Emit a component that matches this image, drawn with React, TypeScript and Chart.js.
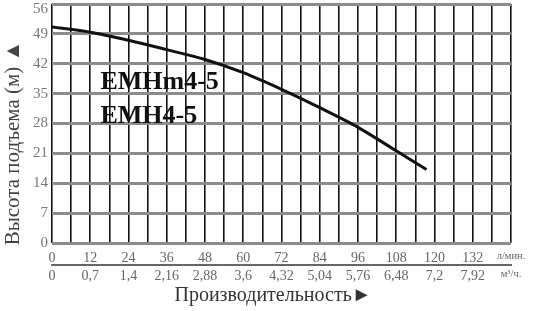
import React, { useEffect, useRef } from "react";
import { Chart, registerables } from "chart.js";

Chart.register(...registerables);

const flowLpm = [0, 12, 24, 36, 48, 60, 72, 84, 96, 108, 117.5];
const headM = [50.6, 49.4, 47.5, 45.3, 43.0, 39.9, 36.0, 31.7, 27.1, 21.6, 17.2];
const lpmLabels: Record<number, string> = {
  0: "0", 12: "12", 24: "24", 36: "36", 48: "48", 60: "60", 72: "72",
  84: "84", 96: "96", 108: "108", 120: "120", 132: "132", 144: "л/мин.",
};
const m3hLabels: Record<number, string> = {
  0: "0", 12: "0,7", 24: "1,4", 36: "2,16", 48: "2,88", 60: "3,6", 72: "4,32",
  84: "5,04", 96: "5,76", 108: "6,48", 120: "7,2", 132: "7,92", 144: "м³/ч.",
};
const headMax = 56;
const modelLabels = ["EMHm4-5", "EMH4-5"];
const modelLabelPos = [
  { x: 15.2, y: 36.1 },
  { x: 15.2, y: 28.1 },
];
const yTitle = "Высота подъема (м) ▲";
const xTitle = "Производительность►";

const SERIF = "'Liberation Serif', 'Times New Roman', serif";

const overlay = {
  id: "overlay",
  afterDatasetsDraw(chart: any) {
    const { ctx, scales } = chart;
    ctx.save();
    ctx.fillStyle = "#777";
    ctx.font = `15px ${SERIF}`;
    ctx.textAlign = "right";
    ctx.textBaseline = "middle";
    ctx.fillText(String(headMax), scales.y.right - 4, Math.max(scales.y.getPixelForValue(headMax), 9));
    ctx.fillStyle = "#111";
    ctx.font = `bold 26px ${SERIF}`;
    ctx.textAlign = "left";
    ctx.textBaseline = "alphabetic";
    modelLabels.forEach((t, i) => {
      const p = modelLabelPos[i];
      ctx.fillText(t, scales.x.getPixelForValue(p.x), scales.y.getPixelForValue(p.y));
    });
    ctx.fillStyle = "#444";
    ctx.font = `21px ${SERIF}`;
    ctx.translate(13, 143);
    ctx.rotate(-Math.PI / 2);
    ctx.textAlign = "center";
    ctx.textBaseline = "middle";
    ctx.fillText(yTitle, 0, 0);
    ctx.restore();
    ctx.save();
    ctx.fillStyle = "#333";
    ctx.font = `20px ${SERIF}`;
    ctx.textAlign = "center";
    ctx.textBaseline = "middle";
    ctx.fillText(xTitle, 273, 296);
    ctx.restore();
  },
};

const tickFont = (size: number) => (c: any) => ({
  family: SERIF,
  size: c && c.tick && c.tick.value === 144 ? 10.5 : size,
});

export default function App() {
  const ref = useRef<HTMLCanvasElement>(null);
  useEffect(() => {
    document.body.style.margin = "0";
    const c = new Chart(ref.current!, {
      type: "line",
      data: {
        datasets: [
          {
            data: flowLpm.map((x, i) => ({ x, y: headM[i] })),
            borderColor: "#111",
            borderWidth: 3,
            pointRadius: 0,
            tension: 0.3,
            fill: false,
          },
        ],
      },
      options: {
        animation: false,
        responsive: false,
        layout: { padding: { left: 0, top: 4, right: 25, bottom: 0 } },
        plugins: { legend: { display: false }, tooltip: { enabled: false } },
        scales: {
          x: {
            type: "linear",
            position: "bottom",
            min: 0,
            max: 144,
            afterFit: (s: any) => { s.height = 22; s.paddingLeft = 0; s.paddingRight = 0; },
            ticks: {
              stepSize: 6,
              autoSkip: false,
              maxRotation: 0,
              padding: 7,
              color: "#666",
              font: tickFont(14),
              callback: (v: any) => (lpmLabels[v] !== undefined ? lpmLabels[v] : ""),
            },
            grid: { color: "#111", lineWidth: 1.6, drawTicks: false },
            border: { display: false },
          },
          x2: {
            type: "linear",
            position: "bottom",
            min: 0,
            max: 144,
            afterFit: (s: any) => { s.height = 46; s.paddingLeft = 0; s.paddingRight = 0; },
            ticks: {
              stepSize: 6,
              autoSkip: false,
              maxRotation: 0,
              padding: 3,
              color: "#666",
              font: tickFont(14),
              callback: (v: any) => (m3hLabels[v] !== undefined ? m3hLabels[v] : ""),
            },
            grid: { display: false, drawTicks: false },
            border: { display: true, color: "#666", width: 2 },
          },
          y: {
            min: 0,
            max: headMax,
            afterFit: (s: any) => { s.width = 52; s.paddingTop = 0; s.paddingBottom = 0; },
            ticks: {
              stepSize: 7,
              padding: 4,
              color: "#777",
              font: { family: SERIF, size: 15 },
              callback: (v: any) => (v === headMax ? "" : String(v)),
            },
            grid: { color: "#8c8c8c", lineWidth: 3, drawTicks: false },
            border: { display: false },
          },
        },
      },
      plugins: [overlay],
    });
    return () => c.destroy();
  }, []);
  return <canvas ref={ref} width={536} height={311} style={{ display: "block" }} />;
}
